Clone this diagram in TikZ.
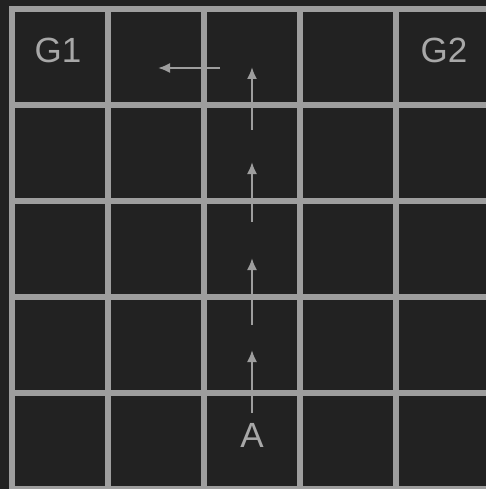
\documentclass[tikz,border=0pt]{standalone}
\usepackage{fontspec}
\setmainfont{Liberation Sans}
\usetikzlibrary{arrows.meta}

\definecolor{bg}{HTML}{222222}
\definecolor{gridgray}{HTML}{9E9E9E}
\definecolor{textgray}{HTML}{A8A8A8}

\begin{document}
\begin{tikzpicture}[
   x=1pt, y=-1pt,
   cell/.style={draw=gridgray, line width=6pt, line cap=rect},
   lbl/.style={text=textgray, font=\fontsize{35}{40}\selectfont,
               anchor=base, inner sep=0pt},
   move/.style={draw=gridgray, line width=2pt},
   >={Latex[length=12pt, width=10pt]}]
  \fill[bg] (0,0) rectangle (486,489);
  \useasboundingbox (0,0) rectangle (486,489);
  % grid
  \foreach \i in {0,...,5} {
    \draw[cell] (12+96*\i,9) -- (12+96*\i,489);
    \draw[cell] (12,9+96*\i) -- (492,9+96*\i);
  }
  % labels
  \node[lbl] (g1) at (58,63) {G1};
  \node[lbl] (g2) at (444,63) {G2};
  \node[lbl] (a) at (252,447) {A};
  % path of A
  \coordinate (t1) at (252,413); \coordinate (s1) at (252,350);
  \coordinate (t2) at (252,325); \coordinate (s2) at (252,258);
  \coordinate (t3) at (252,222); \coordinate (s3) at (252,162);
  \coordinate (t4) at (252,130); \coordinate (s4) at (252,67);
  \coordinate (t5) at (220,68);  \coordinate (s5) at (158,68);
  \draw[move,->] (t1) -- (s1);
  \draw[move,->] (t2) -- (s2);
  \draw[move,->] (t3) -- (s3);
  \draw[move,->] (t4) -- (s4);
  \draw[move,->] (t5) -- (s5);
\end{tikzpicture}
\end{document}
